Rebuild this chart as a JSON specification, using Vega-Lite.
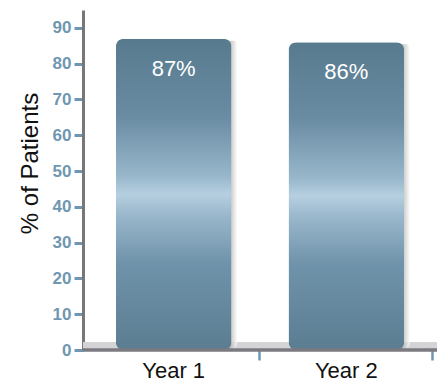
{
  "$schema": "https://vega.github.io/schema/vega-lite/v6.json",
  "width": 354,
  "height": 340,
  "autosize": {"type": "none"},
  "padding": {"left": 83, "top": 10, "right": 1, "bottom": 34},
  "background": "white",
  "config": {
    "view": {"stroke": null},
    "font": "Liberation Sans",
    "scale": {"bandPaddingInner": 0.33, "bandPaddingOuter": 0.19},
    "axisX": {
      "title": null,
      "labelAngle": 0,
      "labelFont": "Liberation Sans",
      "labelFontSize": 22,
      "labelColor": "#111111",
      "labelPadding": 0,
      "domain": false,
      "ticks": true,
      "tickColor": "#6f97b1",
      "tickWidth": 2.5,
      "tickSize": 10,
      "bandPosition": 1.246,
      "grid": false
    },
    "axisY": {
      "titleFont": "Liberation Sans",
      "titleFontSize": 24,
      "titleFontWeight": "normal",
      "titleColor": "#111111",
      "titlePadding": 10,
      "titleY": 153,
      "labelOverlap": false,
      "labelFont": "Liberation Sans",
      "labelColor": "#6f97b1",
      "labelFontWeight": "bold",
      "labelFontSize": 17,
      "labelPadding": 3,
      "tickColor": "#6f97b1",
      "tickWidth": 3,
      "tickSize": 9,
      "domainColor": "#777777",
      "domainWidth": 3,
      "grid": false
    }
  },
  "datasets": {
    "patients": [
      {"year": "Year 1", "pct": 87},
      {"year": "Year 2", "pct": 86}
    ]
  },
  "data": {"name": "patients"},
  "layer": [
    {
      "mark": {"type": "rule", "color": "#d4d4d6", "strokeWidth": 8, "yOffset": -4},
      "encoding": {
        "y": {
          "datum": 0,
          "type": "quantitative",
          "scale": {"domain": [0, 95], "nice": false},
          "axis": {"title": "% of Patients", "values": [0, 10, 20, 30, 40, 50, 60, 70, 80, 90]}
        }
      }
    },
    {
      "mark": {
        "type": "bar",
        "xOffset": 6,
        "yOffset": 2,
        "cornerRadius": 8,
        "opacity": 0.75,
        "color": {
          "gradient": "linear",
          "x1": 0, "y1": 0, "x2": 1, "y2": 0,
          "stops": [
            {"offset": 0, "color": "#8e8e8e"},
            {"offset": 0.92, "color": "#a0a0a0"},
            {"offset": 1, "color": "#ffffff"}
          ]
        }
      },
      "encoding": {
        "x": {"field": "year", "type": "nominal", "sort": null, "axis": {"title": null}},
        "y": {
          "field": "pct",
          "type": "quantitative",
          "scale": {"domain": [0, 95], "nice": false},
          "axis": {"title": "% of Patients", "values": [0, 10, 20, 30, 40, 50, 60, 70, 80, 90]}
        }
      }
    },
    {
      "mark": {
        "type": "bar",
        "cornerRadius": 8,
        "color": {
          "gradient": "linear",
          "x1": 0, "y1": 0, "x2": 0, "y2": 1,
          "stops": [
            {"offset": 0, "color": "#587a8e"},
            {"offset": 0.25, "color": "#6a8ca3"},
            {"offset": 0.44, "color": "#97b6ca"},
            {"offset": 0.5, "color": "#b6cfe0"},
            {"offset": 0.56, "color": "#9cb9cd"},
            {"offset": 0.72, "color": "#6f93aa"},
            {"offset": 1, "color": "#5b7d92"}
          ]
        }
      },
      "encoding": {
        "x": {"field": "year", "type": "nominal", "sort": null, "axis": {"title": null}},
        "y": {
          "field": "pct",
          "type": "quantitative",
          "scale": {"domain": [0, 95], "nice": false},
          "axis": {"title": "% of Patients", "values": [0, 10, 20, 30, 40, 50, 60, 70, 80, 90]}
        }
      }
    },
    {
      "mark": {"type": "rule", "color": "#7a7a80", "strokeWidth": 3},
      "encoding": {
        "y": {
          "datum": 0,
          "type": "quantitative",
          "scale": {"domain": [0, 95], "nice": false},
          "axis": {"title": "% of Patients", "values": [0, 10, 20, 30, 40, 50, 60, 70, 80, 90]}
        }
      }
    },
    {
      "transform": [{"calculate": "datum.pct + '%'", "as": "label"}],
      "mark": {"type": "text", "color": "white", "fontSize": 22, "baseline": "middle", "dy": 30},
      "encoding": {
        "x": {"field": "year", "type": "nominal", "sort": null, "axis": {"title": null}},
        "y": {
          "field": "pct",
          "type": "quantitative",
          "scale": {"domain": [0, 95], "nice": false},
          "axis": {"title": "% of Patients", "values": [0, 10, 20, 30, 40, 50, 60, 70, 80, 90]}
        },
        "text": {"field": "label", "type": "nominal"}
      }
    }
  ]
}
